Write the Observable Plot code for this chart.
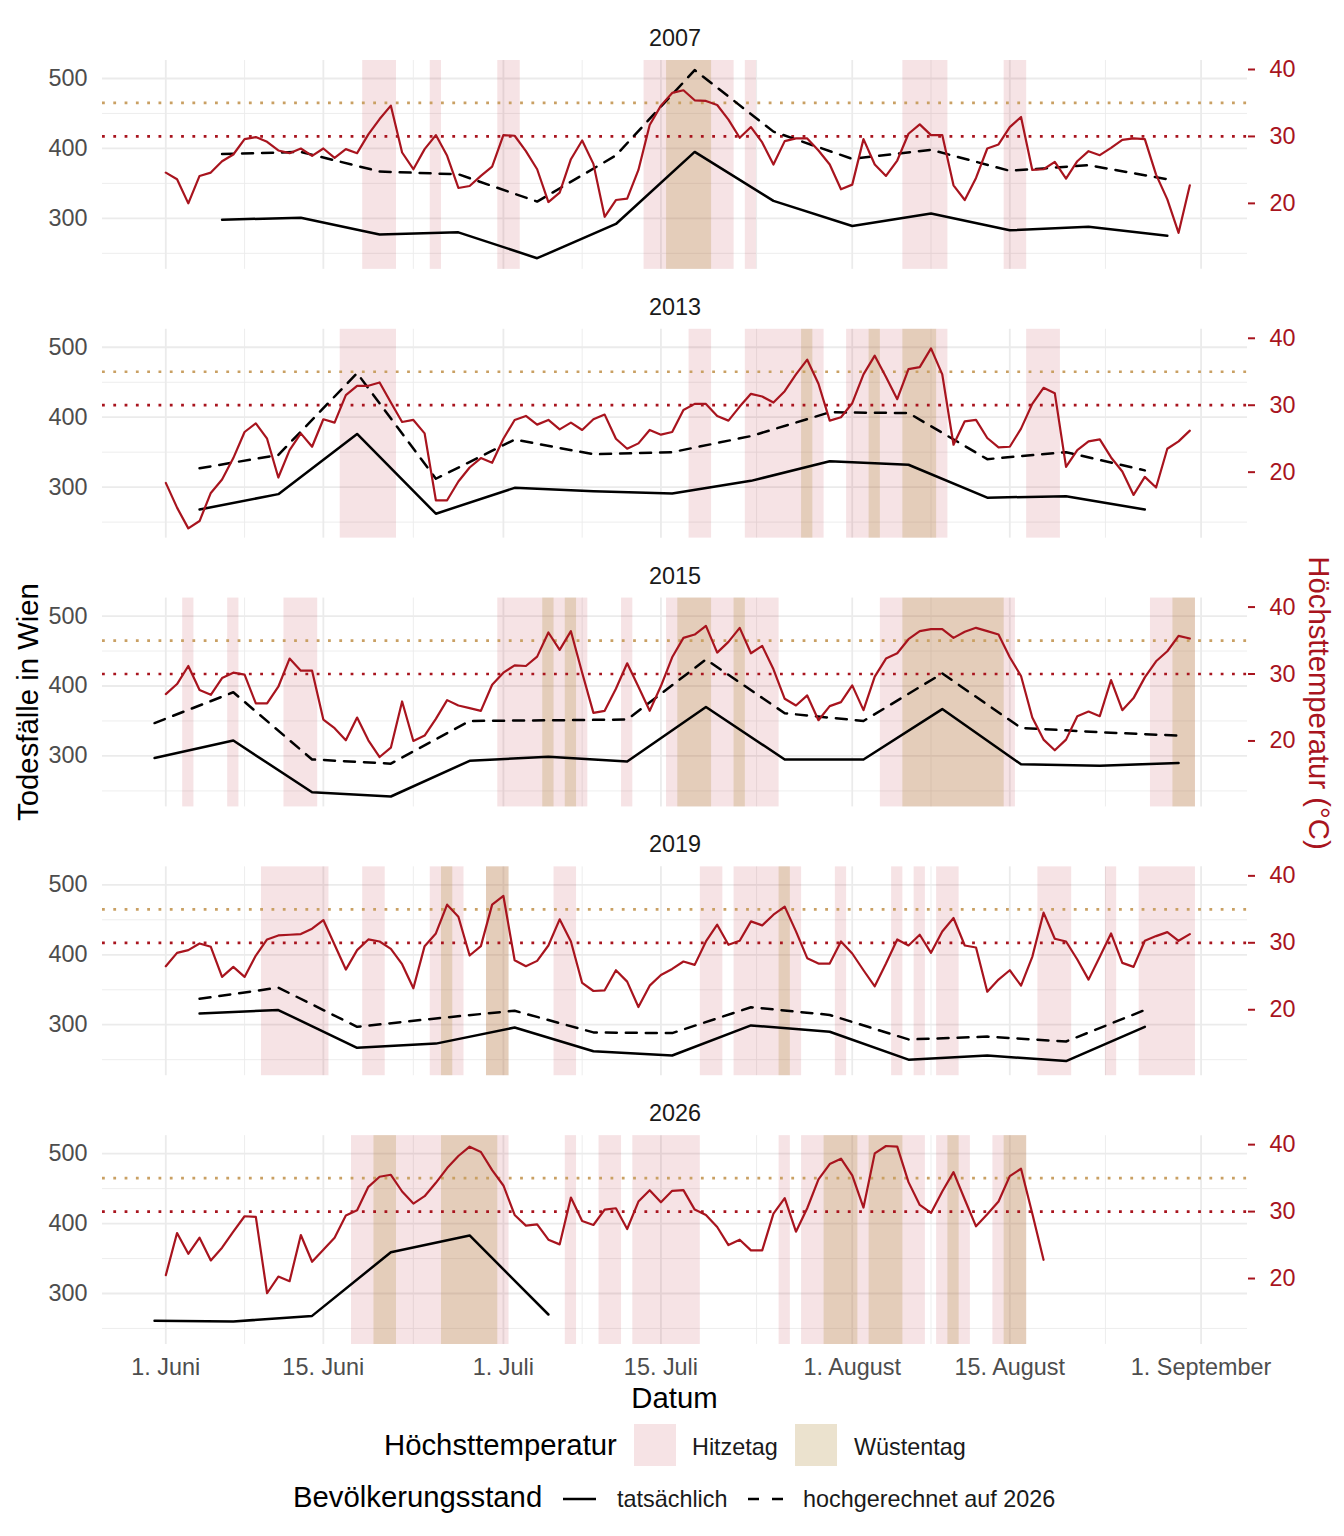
<!DOCTYPE html>
<html><head><meta charset="utf-8">
<script src="https://cdn.jsdelivr.net/npm/d3@7"></script>
<script src="https://cdn.jsdelivr.net/npm/@observablehq/plot@0.6"></script>
<style>
body{margin:0;background:#fff;overflow:hidden;font-family:'Liberation Sans',Arial,sans-serif;}
svg{display:block}
</style>
</head><body><div id="chart"></div>
<script>
// ---------- DATA ----------
const years = [2007, 2013, 2015, 2019, 2026];

// Daily maximum temperature (°C), first value = 1 June
const temp2007 = [24.6,23.6,20.0,24.1,24.6,26.3,27.3,29.6,29.9,29.2,27.9,27.5,28.2,27.1,28.2,26.8,28.1,27.5,30.3,32.6,34.6,27.6,25.1,28.1,30.2,27.1,22.3,22.6,24.1,25.5,30.2,30.1,27.8,25.1,20.2,21.6,26.6,29.4,25.9,18.0,20.5,20.7,25.0,31.7,34.6,36.5,36.9,35.4,35.3,34.7,32.5,29.8,31.4,29.1,25.8,29.3,29.7,29.7,27.9,25.8,22.1,22.8,29.6,25.8,24.1,26.4,30.4,31.8,30.2,30.2,22.7,20.5,23.8,28.2,28.8,31.4,32.9,25.0,25.1,26.2,23.7,26.3,27.8,27.2,28.3,29.5,29.7,29.6,24.3,20.6,15.6,22.7];
const temp2013 = [18.4,14.7,11.6,12.7,16.9,18.9,22.1,26.0,27.3,25.0,19.2,23.3,25.8,23.8,27.9,27.4,31.5,32.9,32.9,33.4,30.4,27.5,27.8,25.8,15.8,15.8,18.6,20.7,22.1,21.4,25.0,27.8,28.4,27.1,27.8,26.4,27.4,26.3,27.9,28.6,25.0,23.5,24.3,26.3,25.6,26.0,29.3,30.2,30.2,28.4,27.7,29.8,31.7,31.3,30.4,32.1,34.6,36.8,33.2,27.7,28.2,30.3,34.6,37.4,34.2,30.9,35.4,35.7,38.5,34.6,24.1,27.6,27.8,25.1,23.7,23.8,26.5,30.2,32.6,31.8,20.8,23.3,24.6,24.9,22.2,20.1,16.6,19.3,17.7,23.5,24.6,26.2];
const temp2015 = [27.0,28.5,31.2,27.6,26.9,29.4,30.2,29.9,25.6,25.6,28.1,32.3,30.5,30.5,23.2,21.9,20.1,23.5,20.1,17.6,19.0,25.9,20.0,20.8,23.3,26.1,25.3,24.9,24.5,28.4,30.2,31.3,31.2,32.6,36.2,33.6,36.4,30.2,24.2,24.5,27.8,31.6,28.1,24.5,28.2,32.5,35.4,35.9,37.2,33.2,34.8,36.9,33.1,34.2,30.7,26.3,25.3,26.8,23.1,25.2,25.8,28.3,24.6,29.6,32.3,33.1,35.2,36.4,36.7,36.7,35.4,36.3,36.9,36.4,35.9,32.5,29.7,23.5,20.2,18.6,20.2,23.7,24.4,23.7,29.1,24.6,26.4,29.5,31.9,33.4,35.7,35.3];
const temp2019 = [26.5,28.5,28.9,29.9,29.4,24.9,26.4,24.9,28.1,30.5,31.1,31.2,31.3,32.1,33.4,29.7,26.0,28.9,30.5,30.2,29.1,26.8,23.2,29.5,31.4,35.7,33.9,28.1,29.5,35.7,37.0,27.4,26.5,27.3,29.6,33.5,30.2,24.0,22.8,22.9,25.9,24.2,20.4,23.6,25.2,26.1,27.2,26.7,30.2,32.7,29.7,30.3,33.2,32.6,34.2,35.4,31.7,27.7,26.9,26.9,30.2,28.4,25.9,23.5,26.9,30.5,29.6,31.2,28.5,31.7,33.7,29.6,29.3,22.7,24.5,25.9,23.6,27.9,34.5,30.6,30.2,27.5,24.5,27.9,31.4,27.0,26.4,30.3,31.0,31.6,30.3,31.3];
const temp2026 = [20.5,26.8,23.7,26.1,22.7,24.6,27.0,29.3,29.2,17.8,20.3,19.6,26.5,22.5,24.3,26.1,29.4,30.2,33.7,35.2,35.5,33.0,31.2,32.3,34.3,36.5,38.3,39.7,38.9,36.2,33.9,29.5,27.9,28.1,25.8,25.1,32.1,28.6,28.0,30.3,30.5,27.4,31.5,33.2,31.4,33.1,33.2,30.3,29.5,27.7,25.0,25.8,24.2,24.2,29.7,32.0,27.0,30.5,34.8,37.1,37.9,35.4,30.6,38.7,39.8,39.7,34.4,31.0,29.8,33.0,35.9,31.8,27.8,29.6,31.5,35.3,36.4,29.7,22.8];

// Weekly deaths in Vienna (actual, projected to 2026 population)
const deathDates2007 = ["06-06","06-13","06-20","06-27","07-04","07-11","07-18","07-25","08-01","08-08","08-15","08-22","08-29"];
const deathsActual2007 = [298,301,277,280,243,292,395,325,289,307,283,288,275];
const deathsProjected2007 = [392,395,367,363,324,390,512,424,385,398,368,376,356];

const deathDates2013 = ["06-04","06-11","06-18","06-25","07-02","07-09","07-16","07-23","07-30","08-06","08-13","08-20","08-27"];
const deathsActual2013 = [268,290,376,262,299,294,291,309,337,332,285,287,268];
const deathsProjected2013 = [327,346,463,312,368,347,350,373,407,406,340,350,324];

const deathDates2015 = ["05-31","06-07","06-14","06-21","06-28","07-05","07-12","07-19","07-26","08-02","08-09","08-16","08-23","08-30"];
const deathsActual2015 = [297,322,248,242,293,299,292,370,295,295,367,288,286,290];
const deathsProjected2015 = [347,391,295,289,350,351,352,438,361,350,418,340,334,329];

const deathDates2019 = ["06-04","06-11","06-18","06-25","07-02","07-09","07-16","07-23","07-30","08-06","08-13","08-20","08-27"];
const deathsActual2019 = [316,321,267,273,296,262,256,299,290,250,256,248,297];
const deathsProjected2019 = [337,353,297,309,320,289,288,325,314,279,283,276,321];

const deathDates2026 = ["05-31","06-07","06-14","06-21","06-28","07-05"];
const deathsActual2026 = [261,260,268,359,383,270];

// Axis ticks and thresholds
const xTickDates = ["06-01","06-15","07-01","07-15","08-01","08-15","09-01"];
const xTickLabels = ["1. Juni","15. Juni","1. Juli","15. Juli","1. August","15. August","1. September"];
const yTicks = [300, 400, 500];
const yMinorTicks = [250, 350, 450];
const tempTicks = [20, 30, 40];
const hitzeThreshold = 30;
const wuesteThreshold = 35;

// ---------- BUILD ----------
const RED = "#a8141e", TAN = "#c9a063";
const PINK_FILL = "#b2182b", PINK_OP = 0.12;
const TAN_FILL = "#af8c3c", TAN_OP = 0.25;
const TITLE_FS = 29.3, TEXT_FS = 23.4;
const toDeaths = t => 130 + 9.571 * t;        // secondary axis transform
const toTemp = d => (d - 130) / 9.571;

const D0 = Date.UTC(2026, 5, 1), DAY = 864e5;
const md = s => new Date(`2026-${s}T00:00:00Z`);
const dayDate = i => new Date(D0 + i * DAY);

const temps = {2007: temp2007, 2013: temp2013, 2015: temp2015, 2019: temp2019, 2026: temp2026};
const deathTable = [
  [2007, deathDates2007, deathsActual2007, deathsProjected2007],
  [2013, deathDates2013, deathsActual2013, deathsProjected2013],
  [2015, deathDates2015, deathsActual2015, deathsProjected2015],
  [2019, deathDates2019, deathsActual2019, deathsProjected2019],
  [2026, deathDates2026, deathsActual2026, null]
];

const tempRows = years.flatMap(y => temps[y].map((t, i) => ({year: y, date: dayDate(i), temp: t})));
const actualRows = deathTable.flatMap(([y, dates, a]) => dates.map((d, i) => ({year: y, date: md(d), value: a[i]})));
const projRows = deathTable.filter(r => r[3]).flatMap(([y, dates, a, p]) => dates.map((d, i) => ({year: y, date: md(d), value: p[i]})));

function runs(arr, thr, year) {
  const out = []; let s = null;
  arr.forEach((t, i) => {
    if (t >= thr) { if (s === null) s = i; }
    else if (s !== null) { out.push({year, x1: dayDate(s - 0.5), x2: dayDate(i - 0.5)}); s = null; }
  });
  if (s !== null) out.push({year, x1: dayDate(s - 0.5), x2: dayDate(arr.length - 0.5)});
  return out;
}
const hitzeRuns = years.flatMap(y => runs(temps[y], hitzeThreshold, y));
const wuesteRuns = years.flatMap(y => runs(temps[y], wuesteThreshold, y));

const xMajor = xTickDates.map(md);
const xMinor = xMajor.slice(1).map((d, i) => new Date((+d + +xMajor[i]) / 2));
const labelOf = new Map(xMajor.map((d, i) => [+d, xTickLabels[i]]));

const svg = Plot.plot({
  width: 1344, height: 1412,
  marginTop: 60, marginBottom: 68, marginLeft: 102, marginRight: 97,
  style: {fontFamily: "'Liberation Sans', Arial, sans-serif", fontSize: TEXT_FS + "px", background: "#fff", overflow: "visible"},
  x: {type: "utc", domain: [dayDate(-5.625), dayDate(96.125)], axis: null},
  y: {domain: [227.1, 525.7], axis: null},
  fy: {domain: years, paddingInner: 0.223, paddingOuter: 0, round: false, axis: null},
  marks: [
    Plot.ruleY(yMinorTicks, {stroke: "#ebebeb", strokeWidth: 0.9}),
    Plot.ruleY(yTicks, {stroke: "#ebebeb", strokeWidth: 1.8}),
    Plot.ruleX(xMinor, {stroke: "#ebebeb", strokeWidth: 0.9}),
    Plot.ruleX(xMajor, {stroke: "#ebebeb", strokeWidth: 1.8}),
    Plot.rect(hitzeRuns, {x1: "x1", x2: "x2", fy: "year", fill: PINK_FILL, fillOpacity: PINK_OP}),
    Plot.rect(wuesteRuns, {x1: "x1", x2: "x2", fy: "year", fill: TAN_FILL, fillOpacity: TAN_OP}),
    Plot.ruleY([toDeaths(wuesteThreshold)], {stroke: TAN, strokeWidth: 2.7, strokeDasharray: "2.8,8.5"}),
    Plot.ruleY([toDeaths(hitzeThreshold)], {stroke: RED, strokeWidth: 2.7, strokeDasharray: "2.8,8.5"}),
    Plot.line(actualRows, {x: "date", y: "value", fy: "year", stroke: "#000", strokeWidth: 2.5}),
    Plot.line(projRows, {x: "date", y: "value", fy: "year", stroke: "#000", strokeWidth: 2.5, strokeDasharray: "11,9"}),
    Plot.line(tempRows, {x: "date", y: d => toDeaths(d.temp), fy: "year", stroke: RED, strokeWidth: 2.2}),
    Plot.axisY(yTicks, {anchor: "left", tickSize: 0, tickPadding: 15, fontSize: TEXT_FS, color: "#4d4d4d", label: null}),
    Plot.axisY(tempTicks.map(toDeaths), {anchor: "right", tickSize: 7, tickPadding: 15, strokeWidth: 2,
      tickFormat: d => String(Math.round(toTemp(d))), fontSize: TEXT_FS, color: RED, label: null}),
    Plot.axisX(xMajor, {anchor: "bottom", tickSize: 0, tickPadding: 14, fontSize: TEXT_FS, color: "#4d4d4d",
      tickFormat: d => labelOf.get(+d), label: null}),
    Plot.text(years, {fy: d => d, text: d => String(d), frameAnchor: "top", lineAnchor: "middle", dy: -22, fontSize: TEXT_FS, fill: "#1a1a1a"})
  ]
});

const s = d3.select(svg);
s.append("text").attr("transform", "translate(27,702) rotate(-90)").attr("text-anchor", "middle")
  .attr("dominant-baseline", "central").attr("font-size", TITLE_FS).attr("fill", "#000").text("Todesfälle in Wien");
s.append("text").attr("transform", "translate(1319,703) rotate(90)").attr("text-anchor", "middle")
  .attr("dominant-baseline", "central").attr("font-size", TITLE_FS).attr("fill", RED).text("Höchsttemperatur (°C)");
s.append("text").attr("x", 674.5).attr("y", 1408).attr("text-anchor", "middle")
  .attr("font-size", TITLE_FS).attr("fill", "#000").text("Datum");
document.getElementById("chart").appendChild(svg);

// ---------- LEGEND ----------
const OFF = 1412;
const lg = d3.select("body").append("svg").attr("width", 1344).attr("height", 124)
  .style("font-family", "'Liberation Sans', Arial, sans-serif");
lg.append("text").attr("x", 384).attr("y", 1455 - OFF).attr("font-size", TITLE_FS).text("Höchsttemperatur");
lg.append("rect").attr("x", 634).attr("y", 1424 - OFF).attr("width", 42).attr("height", 42)
  .attr("fill", PINK_FILL).attr("fill-opacity", PINK_OP);
lg.append("text").attr("x", 692).attr("y", 1455 - OFF).attr("font-size", TEXT_FS).attr("fill", "#1a1a1a").text("Hitzetag");
lg.append("rect").attr("x", 795).attr("y", 1424 - OFF).attr("width", 42).attr("height", 42)
  .attr("fill", TAN_FILL).attr("fill-opacity", TAN_OP);
lg.append("text").attr("x", 854).attr("y", 1455 - OFF).attr("font-size", TEXT_FS).attr("fill", "#1a1a1a").text("Wüstentag");

lg.append("text").attr("x", 293).attr("y", 1507 - OFF).attr("font-size", TITLE_FS).text("Bevölkerungsstand");
lg.append("line").attr("x1", 563).attr("x2", 596).attr("y1", 1499 - OFF).attr("y2", 1499 - OFF)
  .attr("stroke", "#000").attr("stroke-width", 2.5);
lg.append("text").attr("x", 617).attr("y", 1507 - OFF).attr("font-size", TEXT_FS).attr("fill", "#1a1a1a").text("tatsächlich");
lg.append("line").attr("x1", 748).attr("x2", 784).attr("y1", 1499 - OFF).attr("y2", 1499 - OFF)
  .attr("stroke", "#000").attr("stroke-width", 2.5).attr("stroke-dasharray", "11,13");
lg.append("text").attr("x", 803).attr("y", 1507 - OFF).attr("font-size", TEXT_FS).attr("fill", "#1a1a1a").text("hochgerechnet auf 2026");
</script>
</body></html>
